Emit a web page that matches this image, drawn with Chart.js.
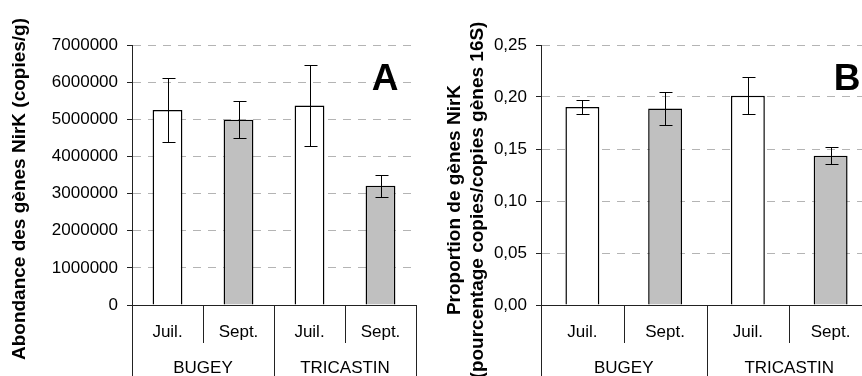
<!DOCTYPE html>
<html>
<head>
<meta charset="utf-8">
<script src="https://cdn.jsdelivr.net/npm/chart.js@4.4.1/dist/chart.umd.min.js"></script>
<style>
  html, body { margin: 0; padding: 0; background: #fff; overflow: hidden; width: 862px; height: 376px; }
  .panel { position: absolute; top: 0; height: 376px; }
  #wrapA { left: 0; width: 431px; }
  #wrapB { left: 431px; width: 456px; }
</style>
</head>
<body>
<div class="panel" id="wrapA"><canvas id="chartA"></canvas></div>
<div class="panel" id="wrapB"><canvas id="chartB"></canvas></div>
<script>
// categories
const months = ['Juil.', 'Sept.', 'Juil.', 'Sept.'];
const sites = ['BUGEY', 'TRICASTIN'];

// A: abundance (copies/g)
const abundance = [5250000, 4990000, 5370000, 3210000];
const abundanceErr = [850000, 490000, 1080000, 290000];

// B: proportion NirK / 16S
const proportion = [0.1905, 0.189, 0.2013, 0.1436];
const proportionErr = [0.007, 0.0155, 0.018, 0.0082];

const barColors = ['#ffffff', '#c0c0c0', '#ffffff', '#c0c0c0'];
const FONT = "'Liberation Sans', Arial, sans-serif";

// error bars, category table, axis title and panel letter
const decorPlugin = {
  id: 'decor',
  afterDatasetsDraw(chart, args, opts) {
    const { ctx, scales: { y } } = chart;
    ctx.save();
    ctx.strokeStyle = '#000';
    ctx.lineWidth = 1;
    const meta = chart.getDatasetMeta(0);
    opts.errors.forEach((err, i) => {
      const v = chart.data.datasets[0].data[i];
      const cx = Math.round(meta.data[i].x) + 0.5;
      const top = Math.round(y.getPixelForValue(v + err)) + 0.5;
      const bot = Math.round(y.getPixelForValue(v - err)) + 0.5;
      ctx.beginPath();
      ctx.moveTo(cx, top); ctx.lineTo(cx, bot);
      ctx.moveTo(cx - 6, top); ctx.lineTo(cx + 7, top);
      ctx.moveTo(cx - 6, bot); ctx.lineTo(cx + 7, bot);
      ctx.stroke();
    });
    ctx.restore();
  },
  afterDraw(chart, args, opts) {
    const { ctx, chartArea: area, scales: { x } } = chart;
    const h = chart.height;
    const cw = (area.right - area.left) / months.length;
    ctx.save();
    ctx.strokeStyle = '#222';
    ctx.lineWidth = 1;
    ctx.beginPath();
    for (let i = 0; i <= months.length; i++) {
      const bx = Math.round(area.left + i * cw) + 0.5;
      ctx.moveTo(bx, area.bottom);
      ctx.lineTo(bx, i % 2 === 0 ? h : area.bottom + 38);
    }
    ctx.stroke();

    ctx.fillStyle = '#000';
    ctx.textAlign = 'center';
    ctx.textBaseline = 'middle';
    ctx.font = '17px ' + FONT;
    months.forEach((m, i) => ctx.fillText(m, x.getPixelForTick(i), area.bottom + 27));
    sites.forEach((s, i) => ctx.fillText(s, area.left + (2 * i + 1) * cw, area.bottom + 63));

    // panel letter
    ctx.font = 'bold 37px ' + FONT;
    ctx.fillText(opts.letter, opts.letterX, 80);

    // rotated axis title
    ctx.font = 'bold 19px ' + FONT;
    opts.title.forEach((line, i) => {
      ctx.save();
      ctx.translate(opts.titleX + i * 23, opts.titleY);
      ctx.rotate(-Math.PI / 2);
      ctx.fillText(line, 0, 0);
      ctx.restore();
    });
    ctx.restore();
  }
};

function makeChart(id, values, errors, cfg) {
  return new Chart(document.getElementById(id), {
    type: 'bar',
    data: {
      labels: months,
      datasets: [{
        data: values,
        backgroundColor: barColors,
        borderColor: '#000',
        borderWidth: 1.5,
        borderSkipped: 'start',
        barPercentage: cfg.barPct,
        categoryPercentage: 1
      }]
    },
    options: {
      responsive: true,
      maintainAspectRatio: false,
      animation: false,
      layout: { padding: { top: 45, right: 15, left: 0, bottom: 0 } },
      plugins: {
        legend: { display: false },
        tooltip: { enabled: false },
        decor: { errors, letter: cfg.letter, letterX: cfg.letterX, title: cfg.title, titleX: cfg.titleX, titleY: cfg.titleY }
      },
      scales: {
        x: {
          grid: { display: false },
          ticks: { display: false },
          border: { display: true, color: '#222' },
          afterFit: s => { s.height = 71; }
        },
        y: {
          min: 0,
          max: cfg.max,
          ticks: { stepSize: cfg.step, callback: cfg.fmt, color: '#000', font: { family: FONT, size: 17 }, padding: 9 },
          grid: { color: '#b4b4b4', tickColor: '#222', tickLength: 5 },
          border: { color: '#222', dash: [8, 7] },
          afterFit: s => { s.width = cfg.axisWidth; }
        }
      }
    },
    plugins: [decorPlugin]
  });
}

makeChart('chartA', abundance, abundanceErr, {
  max: 7000000, step: 1000000, fmt: v => String(v),
  barPct: 0.42, axisWidth: 132,
  letter: 'A', letterX: 385,
  title: ['Abondance des gènes NirK (copies/g)'], titleX: 20, titleY: 189
});

makeChart('chartB', proportion, proportionErr, {
  max: 0.25, step: 0.05, fmt: v => v.toFixed(2).replace('.', ','),
  barPct: 0.41, axisWidth: 110,
  letter: 'B', letterX: 416,
  title: ['Proportion de gènes NirK', '(pourcentage copies/copies gènes 16S)'], titleX: 24, titleY: 200
});
</script>
</body>
</html>
